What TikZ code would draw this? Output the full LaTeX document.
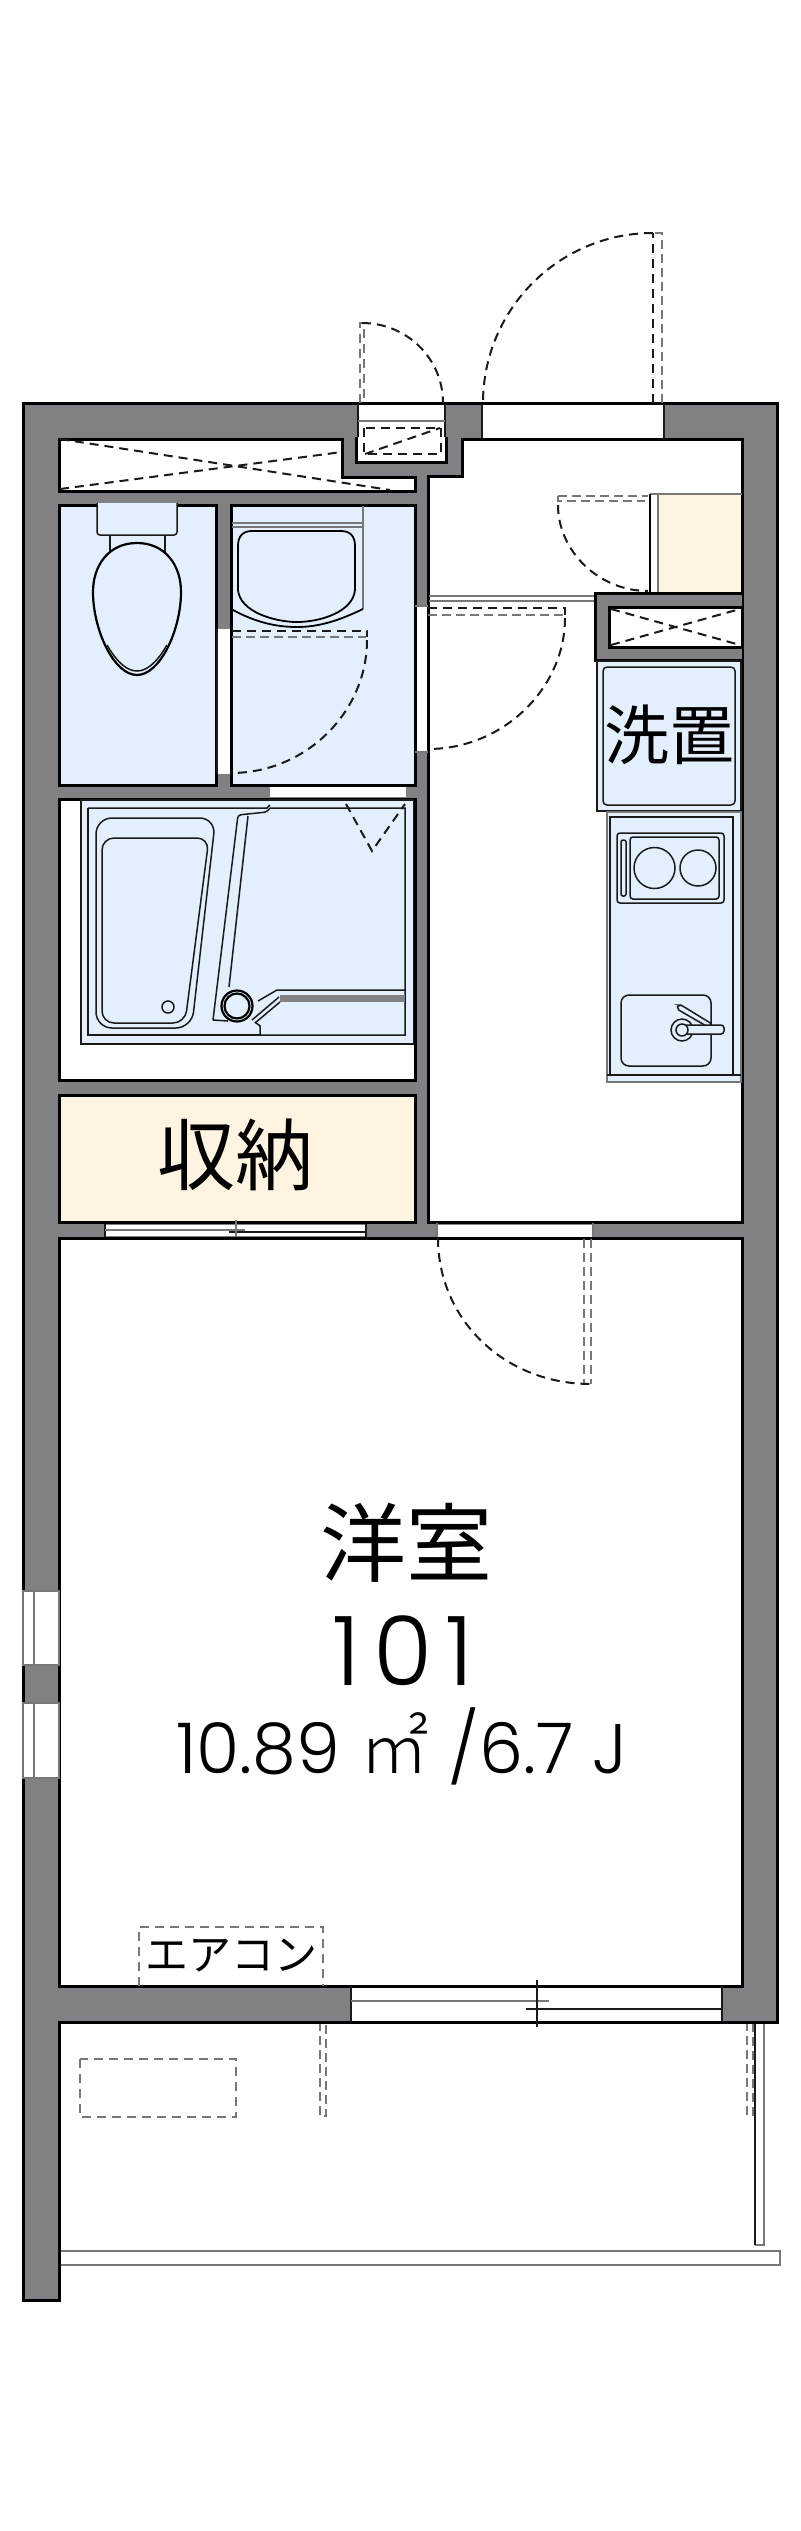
\documentclass[tikz,border=0pt]{standalone}
\usepackage{fontspec}
\setmainfont{Poppins Light}
\newfontfamily\cjk{Noto Sans CJK JP}
\newfontfamily\cjklight{Noto Sans CJK JP Light}
\definecolor{wallgray}{HTML}{808085}
\definecolor{wetblue}{HTML}{E4EFFE}
\definecolor{storebeige}{HTML}{FFF4E1}
\definecolor{inkline}{HTML}{1A1A1A}
\definecolor{graydash}{HTML}{77777A}
\tikzset{
  wallfill/.style={fill=wallgray,draw=black,line width=3pt,line join=miter},
  roomwhite/.style={fill=white,draw=black,line width=3pt,line join=miter},
  roomblue/.style={fill=wetblue,draw=black,line width=3pt,line join=miter},
  roombeige/.style={fill=storebeige,draw=black,line width=3pt,line join=miter},
  gap/.style={fill=white,draw=none},
  thinink/.style={draw=inkline,line width=1.5pt},
  thingray/.style={draw=graydash,line width=1.6pt},
  medink/.style={draw=black,line width=2.2pt},
  dashink/.style={draw=inkline,line width=2pt,dash pattern=on 9pt off 6pt},
  dashgray/.style={draw=graydash,line width=2.4pt,dash pattern=on 9pt off 5pt},
  label/.style={inner sep=0pt,outer sep=0pt,text=black,anchor=center},
}
\begin{document}
\begin{tikzpicture}[x=1pt,y=-1pt]
\useasboundingbox (0,0) rectangle (800,2531);
\fill[white] (0,0) rectangle (800,2531);

% balcony rail
\draw[thingray,fill=white] (59,2251) -- (780,2251) -- (780,2265) -- (59,2265);
\draw[thingray,fill=white] (764,2022) -- (764,2245) -- (755,2245);
\draw[thinink] (755,2245) -- (755,2022);
\draw[dashgray,line width=2pt] (747,2022) -- (747,2115) -- (753,2115) -- (753,2022);
\draw[dashgray,line width=2pt] (320,2022) -- (320,2116) -- (326,2116) -- (326,2022);
\draw[dashink,draw=graydash] (80,2059) rectangle (236,2117);

% walls
\draw[wallfill] (23,403) -- (777,403) -- (777,2022) -- (59,2022) -- (59,2300) -- (23,2300) -- cycle;

% upper closet
\draw[roomwhite] (59,439) -- (342,439) -- (342,477) -- (415,477) -- (415,491) -- (59,491) -- cycle;
\draw[dashink] (60,439) -- (390,490);
\draw[dashink] (60,489) -- (342,452);

% meter niche
\fill[gap] (358,404.5) rectangle (445,461);
\draw[thinink] (358,404) -- (358,437);
\draw[thinink] (445,404) -- (445,437);
\draw[thingray] (358,421) -- (445,421);
\draw[draw=black,line width=3pt] (356,437) -- (356,462) -- (446,462) -- (446,437);
\draw[dashink] (364,428) rectangle (441,454);
\draw[dashink] (365,454) -- (440,428);
\draw[dashink,draw=graydash] (360,403) -- (360,323) -- (364,323) -- (364,403);
\draw[dashink] (362,323) .. controls (406.7,323) and (443,358.3) .. (443,403);

% kitchen and hall
\draw[roomwhite] (462,439) -- (742,439) -- (742,1222) -- (428,1222) -- (428,476) -- (462,476) -- cycle;

% entrance door
\fill[gap] (482,404.5) rectangle (664,437.5);
\draw[thinink] (482,404) -- (482,438);
\draw[thinink] (664,404) -- (664,438);
\draw[dashink] (653,403) -- (653,233);
\draw[dashgray] (662,403) -- (662,233) -- (653,233);
\draw[dashink] (653,233) .. controls (559.1,233) and (483,309.1) .. (483,403);

% shoe cabinet
\fill[storebeige] (658,494) rectangle (740.5,592);
\draw[thingray] (650,494) -- (742,494);
\draw[thingray] (658,494) -- (658,593);
\draw[medink] (650,494) -- (650,593);
\draw[dashgray] (558,496) -- (648,496);
\draw[dashgray] (558,496) -- (558,501) -- (645,501);
\draw[dashink] (558,505) .. controls (558,550.7) and (598.3,591) .. (648,591);

% hall step lines
\draw[thingray] (429,596) -- (595,596);
\draw[thingray] (429,601) -- (595,601);

% block with small closet
\draw[wallfill] (742,593) -- (595,593) -- (595,660) -- (742,660);
\draw[roomwhite] (609,607) rectangle (742,647);
\draw[dashink] (611,609) -- (740,645);
\draw[dashink] (611,645) -- (740,609);

% toilet room
\draw[roomblue] (59,505) rectangle (216,785);
\draw[thinink,fill=wetblue,rounded corners=3pt] (97,503) -- (97,535) -- (177,535) -- (177,503);
\draw[thinink] (110,535) -- (110,552);
\draw[thinink] (165,535) -- (165,552);
\draw[medink,fill=wetblue] (137,543) .. controls (165,543) and (181,565) .. (181,592) .. controls (181,630) and (160,675) .. (137,675) .. controls (114,675) and (93,630) .. (93,592) .. controls (93,565) and (109,543) .. (137,543) -- cycle;
\draw[thinink] (107,645) .. controls (118,664) and (128,671) .. (137,671) .. controls (146,671) and (156,664) .. (167,645);

% washroom
\draw[roomblue] (231,505) rectangle (415,785);
\draw[thingray] (232,523) -- (363,523);
\draw[thingray] (232,527) -- (363,527);
\draw[thingray] (363,506) -- (363,609);
\draw[medink,line width=1.8pt] (231,609) .. controls (255,622) and (275,627) .. (297,627) .. controls (320,627) and (340,620) .. (363,609);
\draw[medink,line width=1.8pt] (238,590) -- (238,546) .. controls (238,536) and (243,531) .. (252,531) -- (341,531) .. controls (350,531) and (355,536) .. (355,546) -- (355,590) .. controls (353,612) and (320,622) .. (297,622) .. controls (275,622) and (240,612) .. (238,590) -- cycle;
\draw[dashink] (232,631) -- (367,631) -- (367,637);
\draw[dashgray] (232,637) -- (366,637);
\draw[dashink] (367,640) .. controls (367,712) and (306,773) .. (231,773);

% opening toilet - wash
\fill[gap] (217.5,629) rectangle (229.5,774);
\draw[thinink] (217,629) -- (217,774);

% opening wash - hall
\fill[gap] (416.5,606) rectangle (426.5,752);
\draw[thingray] (415,606) -- (428,606);
\draw[thingray] (415,752) -- (428,752);
\draw[dashink] (428,607.5) -- (565,607.5) -- (565,615);
\draw[dashgray] (428,615) -- (565,615);
\draw[dashink] (565,618) .. controls (565,687.7) and (503.7,749) .. (428,749);

% bath
\draw[roomwhite] (59,799) rectangle (415,1080);
\fill[gap] (270,786.5) rectangle (406,797);
\draw[thinink,fill=wetblue] (81,800) -- (81,1044) -- (413.5,1044) -- (413.5,800) -- cycle;
\draw[thinink] (88,808) -- (267,808) -- (270,805);
\draw[thinink] (270,808) -- (405,808) -- (405,1035) -- (260,1035) -- (260,1026) -- (255,1022);
\draw[thinink] (88,808) -- (88,1035) -- (260,1035);
\draw[thinink,rounded corners=16pt] (96,818) -- (215.6,818) -- (191.7,1028) -- (96,1028) -- cycle;
\draw[thinink,rounded corners=12pt] (102,838) -- (209,838) -- (185,1023) -- (102,1023) -- cycle;
\draw[thinink] (168,1007) circle[radius=6];
\draw[thinink,rounded corners=3pt] (213,1020) -- (238,815) -- (267,812) -- (270,808);
\draw[thinink] (248,816) -- (229,987);
\draw[thinink] (213,1020) -- (228,1021);
\draw[medink,fill=wetblue] (237,1006) circle[radius=15.5];
\draw[medink] (237,1006) circle[radius=12.5];
\draw[thinink] (258,1001) -- (277,990) -- (405,990);
\draw[fill=wallgray,draw=none] (280,995) rectangle (405,1002);
\draw[thinink] (252,1020) -- (279,997);
\draw[thinink] (255,1023) -- (280,1002);
\draw[dashink] (346,804) -- (372,851) -- (405,804);

% storage
\draw[roombeige] (59,1095) rectangle (415,1222);

% storage door
\fill[gap] (105,1225) rectangle (366,1236);
\draw[thinink] (105,1224) -- (105,1237);
\draw[thinink] (366,1224) -- (366,1237);
\draw[thingray] (105,1230) -- (245,1230);
\draw[thinink] (229,1232) -- (366,1232);
\draw[thingray] (236,1220) -- (236,1240);

% main room
\draw[roomwhite] (59,1238) -- (742,1238) -- (742,1986) -- (59,1986) -- cycle;

% room door
\fill[gap] (437,1224.5) rectangle (593,1236.5);
\draw[thingray] (437,1223) -- (437,1237);
\draw[thingray] (593,1223) -- (593,1237);
\draw[dashgray] (584,1239) -- (584,1384);
\draw[dashgray] (591,1239) -- (591,1384);
\draw[dashink] (438,1238) .. controls (438,1318.6) and (503.4,1384) .. (591,1384);

% washer pan
\draw[thinink,fill=wetblue] (597,661) -- (597,811) -- (741,811) -- (741,661) -- cycle;
\draw[thinink,rounded corners=4pt] (603,667) rectangle (735,805);
\node[label] (washtext) at (669,735) {\cjk\fontsize{65}{67}\selectfont 洗置};

% kitchen counter
\draw[thingray,fill=wetblue] (607,812) rectangle (741,1082);
\draw[thinink] (610,1074) -- (610,817) -- (733,817) -- (733,1074);
\draw[thinink] (607,1075) -- (741,1075);
\draw[thinink,rounded corners=3pt] (617,833) rectangle (724,903);
\draw[thinink,rounded corners=3pt] (630,837) rectangle (719,899);
\draw[thinink,rounded corners=2pt] (621,840) rectangle (626,896);
\draw[thinink] (654.5,868) circle[radius=20.5];
\draw[thinink] (698,868) circle[radius=18];
\draw[thinink,rounded corners=8pt] (621,995) rectangle (711,1066);
\draw[thinink,fill=wetblue,rounded corners=2pt] (678,1005) -- (681,1005) -- (712,1024) -- (708,1027) -- (677,1009) -- cycle;
\draw[thinink,fill=wetblue] (682,1030) circle[radius=11];
\draw[thinink,fill=wetblue,rounded corners=3pt] (682,1025) -- (724,1025) -- (724,1034) -- (682,1034);
\draw[thinink,fill=wetblue] (682,1030) circle[radius=6];

% left windows
\draw[thingray,fill=white] (23,1591) rectangle (59,1665);
\draw[thingray] (34,1591) -- (34,1665);
\draw[thingray,fill=white] (23,1703) rectangle (59,1778);
\draw[thingray] (34,1703) -- (34,1778);

% south window
\fill[gap] (351,1987.5) rectangle (722,2020.5);
\draw[thinink] (351,1986) -- (351,2022);
\draw[thinink] (722,1986) -- (722,2022);
\draw[thingray,line width=2pt] (351,2001) -- (549,2001);
\draw[thinink] (526,2009) -- (722,2009);
\draw[thinink] (537,1980) -- (537,2027);

% aircon
\draw[dashink,draw=graydash] (139,1986) -- (139,1927) -- (323,1927) -- (323,1986);
\node[label] (aircon) at (231,1956) {\cjk\fontsize{43}{45}\selectfont エアコン};

% texts
\node[label] (storetext) at (235,1155) {\cjk\fontsize{78}{80}\selectfont 収納};
\node[label] (roomname) at (406,1543) {\cjk\fontsize{86}{88}\selectfont 洋室};
\node[label,anchor=base] (roomno) at (403,1685) {\addfontfeatures{LetterSpace=13}\fontsize{96}{98}\selectfont 101};
\node[label,anchor=base] (roomarea) at (402,1773) {\fontsize{70}{72}\selectfont 10.89 {\cjklight ㎡} /6.7 J};
\end{tikzpicture}
\end{document}
